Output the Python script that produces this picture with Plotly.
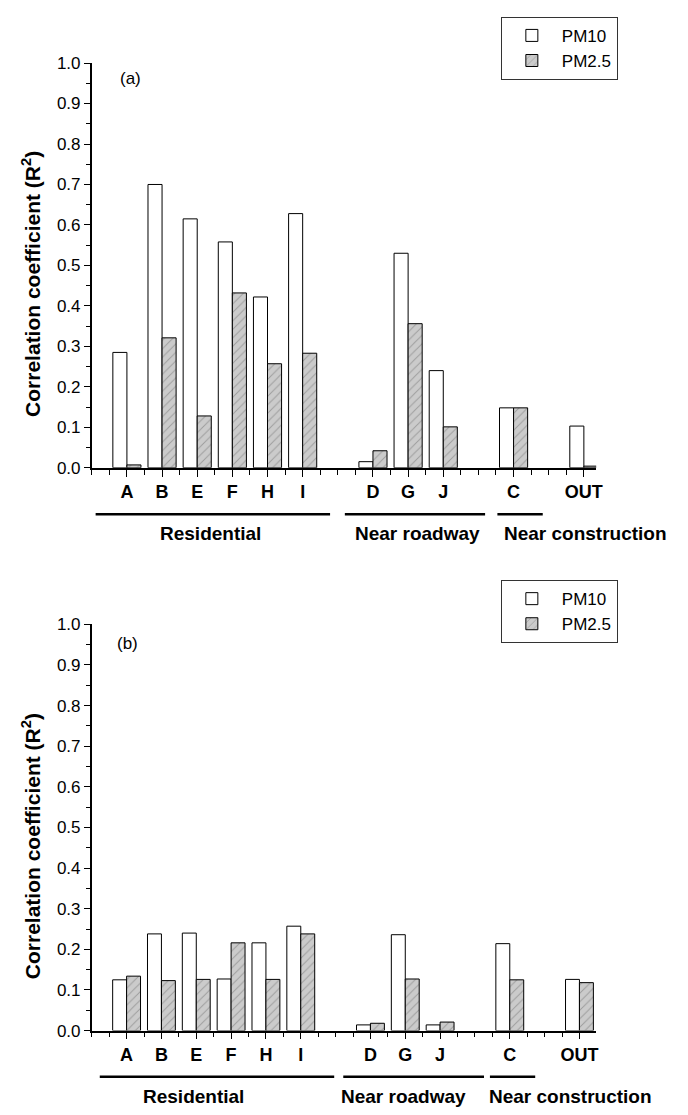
import plotly.graph_objects as go

# ---------------- data ----------------
sites = ["A", "B", "E", "F", "H", "I", "D", "G", "J", "C", "OUT"]
site_pos = [1, 2, 3, 4, 5, 6, 8, 9, 10, 12, 14]

pm10_a = [0.285, 0.700, 0.615, 0.558, 0.422, 0.628, 0.015, 0.530, 0.240, 0.148, 0.103]
pm25_a = [0.007, 0.321, 0.128, 0.432, 0.257, 0.283, 0.042, 0.356, 0.101, 0.148, 0.004]

pm10_b = [0.125, 0.238, 0.240, 0.127, 0.216, 0.257, 0.014, 0.236, 0.014, 0.214, 0.126]
pm25_b = [0.134, 0.123, 0.126, 0.216, 0.126, 0.238, 0.018, 0.127, 0.021, 0.125, 0.118]

groups = ["Residential", "Near roadway", "Near construction"]
# group underline spans (x units) and label centres for each panel
group_span_a = [(0.11, 6.78), (7.20, 11.19), (11.54, 12.83)]
group_lab_a = [3.37, 9.28, 14.06]
group_span_b = [(0.23, 6.96), (7.22, 11.26), (11.43, 12.73)]
group_lab_b = [2.93, 8.95, 13.74]

y_ticks = [round(0.1 * i, 1) for i in range(11)]

W, H = 688, 1115
FONT = "Liberation Sans, Arial, sans-serif"


def py(px):
    return 1 - px / H


def px_x(px):
    return px / W


fig = go.Figure()

bar_w = 0.4
hatch = dict(shape="/", bgcolor="#cbcbcb", fgcolor="#6f6f6f", size=6, solidity=0.16)

for (p10, p25, xa, ya, lg) in [
    (pm10_a, pm25_a, "x", "y", "legend"),
    (pm10_b, pm25_b, "x2", "y2", "legend2"),
]:
    fig.add_trace(go.Bar(
        x=site_pos, y=p10, name="PM10", xaxis=xa, yaxis=ya,
        width=bar_w, offset=-bar_w,
        marker=dict(color="white", line=dict(color="black", width=1)),
        legend=lg, showlegend=True,
    ))
    fig.add_trace(go.Bar(
        x=site_pos, y=p25, name="PM2.5", xaxis=xa, yaxis=ya,
        width=bar_w, offset=0,
        marker=dict(color="#cbcbcb", line=dict(color="black", width=1), pattern=hatch),
        legend=lg, showlegend=True,
    ))

xdom = [px_x(92.7), px_x(602.3)]
common_x = dict(
    tickmode="array", tickvals=site_pos, ticktext=sites,
    ticks="outside", ticklen=7, tickwidth=1.2, tickcolor="black",
    showline=True, linecolor="black", linewidth=1.6,
    showgrid=False, zeroline=False,
    tickfont=dict(family=FONT, size=18, color="black", weight="bold"),
    minor=dict(tick0=0, dtick=0.5, ticks="outside", ticklen=5, tickwidth=1.2,
               tickcolor="black", showgrid=False),
    fixedrange=True,
)
common_y = dict(
    range=[0, 1.0], tickmode="array", tickvals=y_ticks,
    ticktext=[f"{v:.1f}" for v in y_ticks],
    ticks="outside", ticklen=6, tickwidth=1.2, tickcolor="black",
    showline=True, linecolor="black", linewidth=1.6,
    showgrid=False, zeroline=False,
    tickfont=dict(family=FONT, size=17, color="black"),
    minor=dict(tick0=0, dtick=0.05, ticks="outside", ticklen=4, tickwidth=1.2,
               tickcolor="black", showgrid=False),
    fixedrange=True,
)

legend_style = dict(xanchor="left", yanchor="top",
                    bordercolor="#333", borderwidth=1, bgcolor="white",
                    font=dict(family=FONT, size=17, color="black"),
                    itemwidth=50, tracegroupgap=0)

fig.update_layout(
    width=W, height=H,
    margin=dict(l=0, r=0, t=0, b=0),
    paper_bgcolor="white", plot_bgcolor="white",
    font=dict(family=FONT, color="black"),
    barmode="overlay",
    xaxis=dict(domain=xdom, range=[0, 14.35], anchor="y", **common_x),
    yaxis=dict(domain=[py(466.7), py(55)], anchor="x", **common_y),
    xaxis2=dict(domain=xdom, range=[0, 14.48], anchor="y2", **common_x),
    yaxis2=dict(domain=[py(1039.3), py(626)], anchor="x2", **common_y),
    legend=dict(x=px_x(506), y=py(8), **legend_style),
    legend2=dict(x=px_x(506), y=py(581), **legend_style),
    showlegend=True,
)

annotations = []
shapes = []
# panel labels
for lab, cx, cy in (("(a)", 131.5, 71), ("(b)", 128.5, 645)):
    annotations.append(dict(text=lab, x=px_x(cx), y=py(cy), xref="paper", yref="paper",
                            xanchor="center", yanchor="middle",
                            showarrow=False, font=dict(size=17, family=FONT)))
# y titles
ytitle = "<b>Correlation coefficient (R<sup>2</sup>)</b>"
for yc in (280, 852):
    annotations.append(dict(text=ytitle, x=px_x(32), y=py(yc), xref="paper", yref="paper",
                            xanchor="center", yanchor="middle",
                            textangle=-90, showarrow=False,
                            font=dict(size=21, family=FONT)))

for spans, labs, xr, yline, ylab in [
    (group_span_a, group_lab_a, "x", 514, 534),
    (group_span_b, group_lab_b, "x2", 1086.3, 1106),
]:
    for g, (x0, x1), xc in zip(groups, spans, labs):
        shapes.append(dict(type="line", xref=xr, yref="paper", x0=x0, x1=x1,
                           y0=py(yline), y1=py(yline),
                           line=dict(color="black", width=2.5)))
        annotations.append(dict(text=f"<b>{g}</b>", x=xc, y=py(ylab), xref=xr, yref="paper",
                                showarrow=False, xanchor="center", yanchor="middle",
                                font=dict(size=19, family=FONT)))

fig.update_layout(annotations=annotations, shapes=shapes)

fig.write_html("out.html")
